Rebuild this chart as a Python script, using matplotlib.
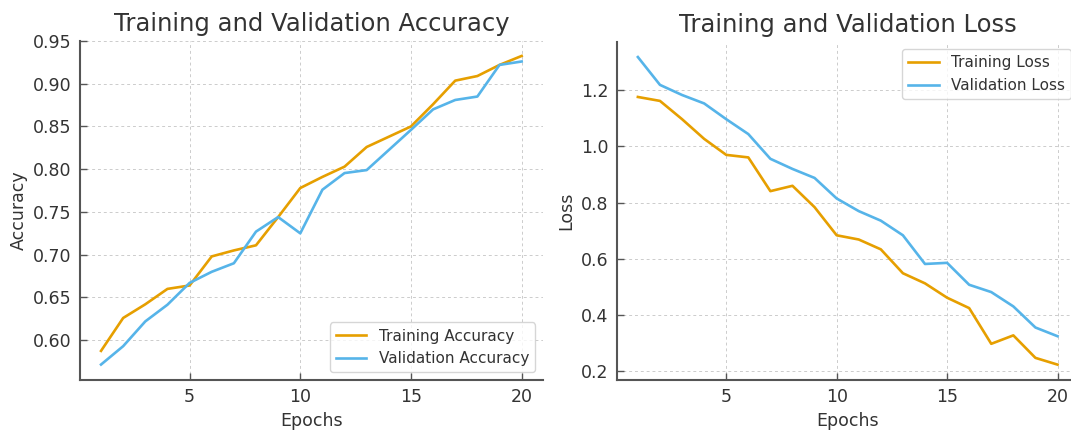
import matplotlib
matplotlib.use("Agg")
import matplotlib.pyplot as plt

epochs = list(range(1, 21))
train_acc = [0.5875, 0.626, 0.642, 0.660, 0.664, 0.698, 0.705, 0.711, 0.744, 0.778,
             0.791, 0.803, 0.826, 0.838, 0.850, 0.876, 0.9036, 0.909, 0.922, 0.9325]
val_acc = [0.5715, 0.593, 0.622, 0.6415, 0.667, 0.680, 0.690, 0.727, 0.744, 0.725,
           0.776, 0.7955, 0.799, 0.8225, 0.846, 0.870, 0.881, 0.885, 0.922, 0.926]
train_loss = [1.176, 1.162, 1.097, 1.027, 0.970, 0.961, 0.841, 0.860, 0.784, 0.684,
              0.669, 0.634, 0.549, 0.513, 0.462, 0.425, 0.298, 0.328, 0.248, 0.224]
val_loss = [1.318, 1.219, 1.183, 1.153, 1.097, 1.044, 0.956, 0.920, 0.888, 0.815,
            0.770, 0.736, 0.684, 0.582, 0.586, 0.508, 0.482, 0.431, 0.356, 0.325]

ORANGE = "#E69F00"
BLUE = "#56B4E9"
TXT = "#333333"

fig = plt.figure(figsize=(10.71, 4.30), dpi=100)
ax1 = fig.add_axes([0.0747, 0.1163, 0.432, 0.7884])
ax2 = fig.add_axes([0.576, 0.1163, 0.431, 0.7868])

def style(ax):
    for s in ["top", "right"]:
        ax.spines[s].set_visible(False)
    for s in ["left", "bottom"]:
        ax.spines[s].set_color("#555555")
        ax.spines[s].set_linewidth(1.5)
    ax.grid(True, linestyle=(0, (3, 3)), color="#cccccc", linewidth=0.7)
    ax.tick_params(direction="in", length=5, width=1, colors="#555555",
                   labelcolor=TXT, labelsize=12.5, pad=6)
    ax.set_axisbelow(True)

ax1.plot(epochs, train_acc, color=ORANGE, lw=1.9, label="Training Accuracy")
ax1.plot(epochs, val_acc, color=BLUE, lw=1.9, label="Validation Accuracy")
ax1.set_title("Training and Validation Accuracy", fontsize=17.5, color=TXT, pad=7)
ax1.set_xlabel("Epochs", fontsize=12.5, color=TXT)
ax1.set_ylabel("Accuracy", fontsize=12.5, color=TXT)
ax1.set_xticks([5, 10, 15, 20])
ax1.set_yticks([0.60, 0.65, 0.70, 0.75, 0.80, 0.85, 0.90, 0.95])
ax1.set_ylim(top=0.95)
style(ax1)
leg1 = ax1.legend(loc="lower right", fontsize=11)
for t in leg1.get_texts():
    t.set_color(TXT)

ax2.plot(epochs, train_loss, color=ORANGE, lw=1.9, label="Training Loss")
ax2.plot(epochs, val_loss, color=BLUE, lw=1.9, label="Validation Loss")
ax2.set_title("Training and Validation Loss", fontsize=17.5, color=TXT, pad=7)
ax2.set_xlabel("Epochs", fontsize=12.5, color=TXT)
ax2.set_ylabel("Loss", fontsize=12.5, color=TXT)
ax2.set_xticks([5, 10, 15, 20])
ax2.set_yticks([0.2, 0.4, 0.6, 0.8, 1.0, 1.2])
style(ax2)
leg2 = ax2.legend(loc="upper right", fontsize=11)
for t in leg2.get_texts():
    t.set_color(TXT)

fig.savefig("out.png", dpi=100)
